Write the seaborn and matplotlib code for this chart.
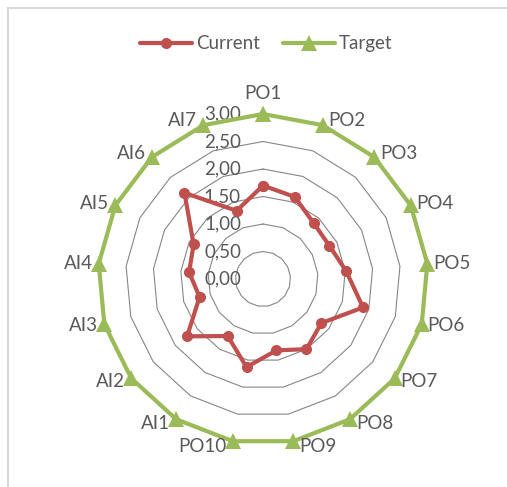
import numpy as np
import pandas as pd
import matplotlib
matplotlib.use("Agg")
import matplotlib.pyplot as plt
from matplotlib.lines import Line2D
from matplotlib.transforms import offset_copy
import seaborn as sns

categories = ["PO1", "PO2", "PO3", "PO4", "PO5", "PO6", "PO7", "PO8", "PO9", "PO10",
              "AI1", "AI2", "AI3", "AI4", "AI5", "AI6", "AI7"]
current = [1.70, 1.60, 1.37, 1.35, 1.52, 1.89, 1.33, 1.50, 1.32, 1.63,
           1.22, 1.73, 1.20, 1.35, 1.41, 2.12, 1.33]
target = [3.00] * 17
ring_levels = [0.5, 1.0, 1.5, 2.0, 2.5, 3.0]
ring_labels = ["0,00", "0,50", "1,00", "1,50", "2,00", "2,50", "3,00"]

RED = "#C0504D"
GREEN = "#9BBB59"
TEXT = "#595959"

sns.set_theme(style="white")
plt.rcParams["font.family"] = ["Lato", "DejaVu Sans"]

n = len(categories)
theta = np.arange(n) * 2 * np.pi / n
theta_closed = np.append(theta, 2 * np.pi)


def closed_frame(values, name):
    vals = list(values) + [values[0]]
    return pd.DataFrame({"theta": theta_closed, "value": vals, "series": name})


fig = plt.figure(figsize=(5.07, 4.87), dpi=100)
ax = fig.add_axes([0.1933, 0.0883, 0.651, 0.6776], projection="polar")
ax.set_theta_zero_location("N")
ax.set_theta_direction(-1)
ax.set_ylim(0, 3)
ax.grid(False)
ax.spines["polar"].set_visible(False)
ax.set_xticks([])
ax.set_yticks([])
ax.set_facecolor("white")

# polygon gridlines
for lv in ring_levels:
    ax.plot(theta_closed, [lv] * (n + 1), color="#868686", lw=0.8, zorder=1)

sns.lineplot(data=closed_frame(target, "Target"), x="theta", y="value", ax=ax,
             color=GREEN, lw=3, marker="^", markersize=11, markeredgewidth=0,
             sort=False, clip_on=False, legend=False, zorder=3)
sns.lineplot(data=closed_frame(current, "Current"), x="theta", y="value", ax=ax,
             color=RED, lw=3, marker="o", markersize=8, markeredgewidth=0,
             sort=False, legend=False, zorder=4)
ax.set_xlabel("")
ax.set_ylabel("")

# radial value labels, left of the vertical axis
lab_tr = offset_copy(ax.transData, fig=fig, x=-22, y=0, units="dots")
for i, lab in enumerate(ring_labels):
    ax.text(0, i * 0.5, lab, transform=lab_tr, ha="right", va="center",
            fontsize=13.5, color=TEXT, zorder=2)

# category labels
for th, lab in zip(theta, categories):
    s, c = np.sin(th), np.cos(th)
    if abs(s) < 0.1:
        ha, va = "center", ("bottom" if c > 0 else "top")
        dx, dy = 0, 12 * np.sign(c)
    else:
        ha, va = ("left" if s > 0 else "right"), "center"
        dx, dy = 6 * np.sign(s), 5 * c
    tr = offset_copy(ax.transData, fig=fig, x=dx, y=dy, units="dots")
    ax.text(th, 3.0, lab, transform=tr, ha=ha, va=va, fontsize=13.5,
            color=TEXT, zorder=5, clip_on=False)

handles = [Line2D([], [], color=RED, lw=3, marker="o", markersize=8, markeredgewidth=0),
           Line2D([], [], color=GREEN, lw=3, marker="^", markersize=11, markeredgewidth=0)]
fig.legend(handles, ["Current", "Target"], loc="center", bbox_to_anchor=(0.525, 0.91),
           ncol=2, frameon=False, fontsize=13.5, handlelength=2.8, handletextpad=0.2,
           columnspacing=1.2, labelcolor=TEXT)

# chart area border (top and left edges)
border = "#D9D9D9"
fig.add_artist(Line2D([8 / 507, 1.0], [1 - 8 / 487, 1 - 8 / 487], color=border, lw=1.5,
                      transform=fig.transFigure))
fig.add_artist(Line2D([8 / 507, 8 / 507], [0.0, 1 - 8 / 487], color=border, lw=1.5,
                      transform=fig.transFigure))

fig.savefig("out.png", dpi=100, facecolor="white")
